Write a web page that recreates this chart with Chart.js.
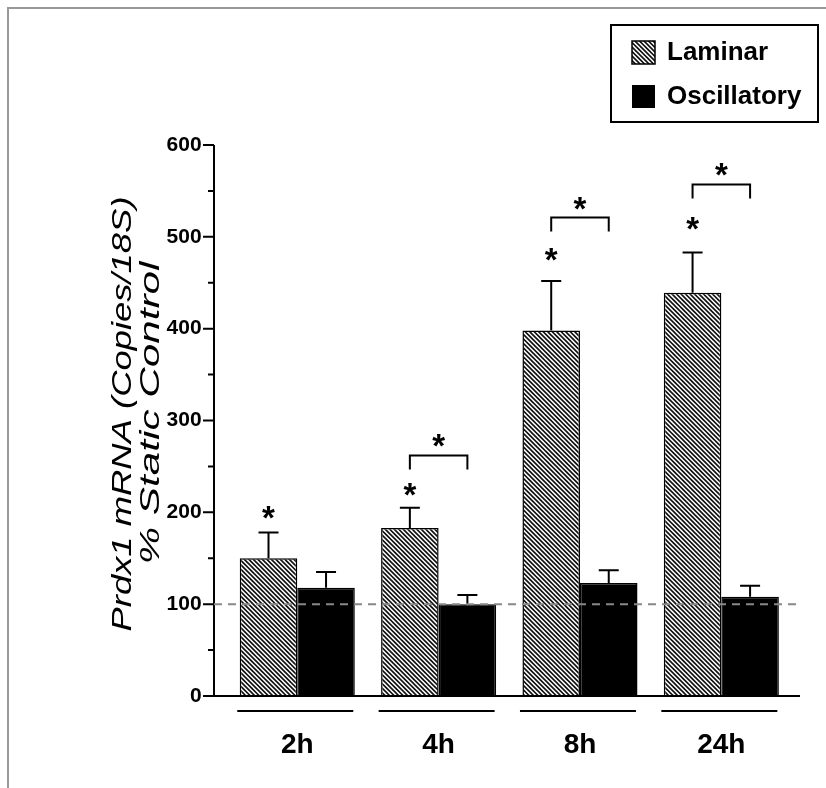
<!DOCTYPE html>
<html>
<head>
<meta charset="utf-8">
<script src="https://cdn.jsdelivr.net/npm/chart.js@4.4.0/dist/chart.umd.min.js"></script>
<style>
  html, body { margin: 0; padding: 0; background: #fff; }
  canvas { display: block; }
</style>
</head>
<body>
<canvas id="grafico" width="826" height="788"></canvas>
<script>
const categorias = ['2h', '4h', '8h', '24h'];
const laminar = [150, 183, 398, 439];
const oscilatorio = [118, 100, 123, 108];
const errorLaminar = [28, 22, 54, 44];
const errorOscilatorio = [17, 10, 14, 12];
// alturas (en unidades del eje) de los asteriscos y corchetes
const estrellaLaminar = [203, 228, 483, 517];
const corchete = [null, 262, 521, 557];
const marcasY = [0, 100, 200, 300, 400, 500, 600];
const lineaControl = 100;
const tituloY = ['Prdx1 mRNA (Copies/18S)', '% Static Control'];
const leyenda = ['Laminar', 'Oscillatory'];

const fuente = '"Liberation Sans", Arial, sans-serif';

const crearTrama = () => {
  const c = document.createElement('canvas');
  c.width = 9; c.height = 9;
  const g = c.getContext('2d');
  g.fillStyle = '#fff';
  g.fillRect(0, 0, 9, 9);
  g.strokeStyle = '#111';
  g.lineWidth = 1.6;
  g.beginPath();
  [-9, -4.5, 0, 4.5, 9].forEach(k => {
    g.moveTo(k - 2, -2);
    g.lineTo(k + 11, 11);
  });
  g.stroke();
  return g.createPattern(c, 'repeat');
};
const trama = crearTrama();

const estrella = (ctx, x, yc) => {
  ctx.font = 'bold 33px ' + fuente;
  ctx.textAlign = 'center';
  ctx.textBaseline = 'alphabetic';
  ctx.fillText('*', x, yc + 19);
};

// texto girado y estirado a lo largo de la linea base
const textoVertical = (ctx, texto, cx, cy, largo) => {
  ctx.save();
  ctx.translate(cx, cy);
  ctx.rotate(-Math.PI / 2);
  const ancho = ctx.measureText(texto).width;
  ctx.scale(largo / ancho, 1);
  ctx.fillText(texto, 0, 0);
  ctx.restore();
};

const decoracion = {
  id: 'decoracion',
  beforeDraw(chart) {
    const ctx = chart.ctx;
    ctx.save();
    ctx.fillStyle = '#fff';
    ctx.fillRect(0, 0, chart.width, chart.height);
    ctx.strokeStyle = '#999';
    ctx.lineWidth = 2;
    ctx.beginPath();
    ctx.moveTo(8, chart.height);
    ctx.lineTo(8, 8);
    ctx.lineTo(chart.width, 8);
    ctx.stroke();
    ctx.restore();
  },
  afterDatasetsDraw(chart) {
    const { ctx, chartArea } = chart;
    const x = chart.scales.x;
    const y = chart.scales.y;
    const ejeX = chartArea.left - 12.6;
    const metaL = chart.getDatasetMeta(0);
    const metaO = chart.getDatasetMeta(1);
    ctx.save();
    ctx.strokeStyle = '#000';
    ctx.fillStyle = '#000';
    ctx.lineWidth = 2;

    // ejes
    ctx.beginPath();
    ctx.moveTo(ejeX, y.getPixelForValue(600));
    ctx.lineTo(ejeX, y.getPixelForValue(0));
    ctx.moveTo(ejeX - 11, y.getPixelForValue(0));
    ctx.lineTo(chartArea.right + 8, y.getPixelForValue(0));
    marcasY.forEach(v => {
      const py = y.getPixelForValue(v);
      ctx.moveTo(ejeX - 11, py); ctx.lineTo(ejeX, py);
      if (v < 600) {
        const pm = y.getPixelForValue(v + 50);
        ctx.moveTo(ejeX - 6, pm); ctx.lineTo(ejeX, pm);
      }
    });
    ctx.stroke();

    // barras de error
    [[metaL, laminar, errorLaminar], [metaO, oscilatorio, errorOscilatorio]].forEach(([meta, valores, errores]) => {
      meta.data.forEach((barra, i) => {
        const arriba = y.getPixelForValue(valores[i] + errores[i]);
        ctx.beginPath();
        ctx.moveTo(barra.x, barra.y);
        ctx.lineTo(barra.x, arriba);
        ctx.moveTo(barra.x - 10, arriba);
        ctx.lineTo(barra.x + 10, arriba);
        ctx.stroke();
      });
    });

    // linea de control
    ctx.save();
    ctx.strokeStyle = '#888';
    ctx.setLineDash([8, 6]);
    ctx.beginPath();
    ctx.moveTo(ejeX, y.getPixelForValue(lineaControl));
    ctx.lineTo(chartArea.right + 4, y.getPixelForValue(lineaControl));
    ctx.stroke();
    ctx.restore();

    // asteriscos y corchetes
    metaL.data.forEach((barra, i) => {
      estrella(ctx, barra.x, y.getPixelForValue(estrellaLaminar[i]));
      if (corchete[i] !== null) {
        const xo = metaO.data[i].x;
        const py = y.getPixelForValue(corchete[i]);
        ctx.beginPath();
        ctx.moveTo(barra.x, py + 14);
        ctx.lineTo(barra.x, py);
        ctx.lineTo(xo, py);
        ctx.lineTo(xo, py + 14);
        ctx.stroke();
        estrella(ctx, (barra.x + xo) / 2, py - 17);
      }
    });

    // subrayado de categorias
    categorias.forEach((c, i) => {
      const cx = x.getPixelForValue(i) - 2;
      const py = y.getPixelForValue(0) + 15;
      ctx.beginPath();
      ctx.moveTo(cx - 58, py);
      ctx.lineTo(cx + 58, py);
      ctx.stroke();
    });

    // leyenda
    ctx.strokeRect(611, 25, 207, 97);
    ctx.fillStyle = trama;
    ctx.fillRect(632, 41, 23, 23);
    ctx.lineWidth = 1.5;
    ctx.strokeRect(632, 41, 23, 23);
    ctx.fillStyle = '#000';
    ctx.fillRect(632, 85, 23, 23);
    ctx.font = 'bold 26px ' + fuente;
    ctx.textAlign = 'left';
    ctx.textBaseline = 'middle';
    ctx.fillText(leyenda[0], 667, 53);
    ctx.fillText(leyenda[1], 667, 97);

    // titulo del eje y
    ctx.textAlign = 'center';
    ctx.textBaseline = 'alphabetic';
    ctx.font = 'italic 28px ' + fuente;
    textoVertical(ctx, tituloY[0], 131, 414, 435);
    textoVertical(ctx, tituloY[1], 159, 413, 303);

    ctx.restore();
  }
};

new Chart(document.getElementById('grafico'), {
  type: 'bar',
  data: {
    labels: categorias,
    datasets: [
      { label: leyenda[0], data: laminar, backgroundColor: trama, borderColor: '#000', borderWidth: 1.5 },
      { label: leyenda[1], data: oscilatorio, backgroundColor: '#000', borderColor: '#000', borderWidth: 1.5 }
    ]
  },
  options: {
    responsive: false,
    animation: false,
    layout: { padding: { top: 145, right: 34, left: 0, bottom: 0 } },
    plugins: { legend: { display: false }, tooltip: { enabled: false } },
    datasets: { bar: { categoryPercentage: 0.814, barPercentage: 1.0 } },
    scales: {
      x: {
        grid: { display: false },
        border: { display: false },
        ticks: { color: '#000', font: { family: fuente, weight: 'bold', size: 28 }, padding: 24 },
        afterFit: (s) => { s.height = 92; }
      },
      y: {
        min: 0,
        max: 600,
        grid: { display: false },
        border: { display: false },
        ticks: { stepSize: 100, color: '#000', font: { family: fuente, weight: 'bold', size: 21 }, padding: 17 },
        afterFit: (s) => { s.width = 226.6; }
      }
    }
  },
  plugins: [decoracion]
});
</script>
</body>
</html>
